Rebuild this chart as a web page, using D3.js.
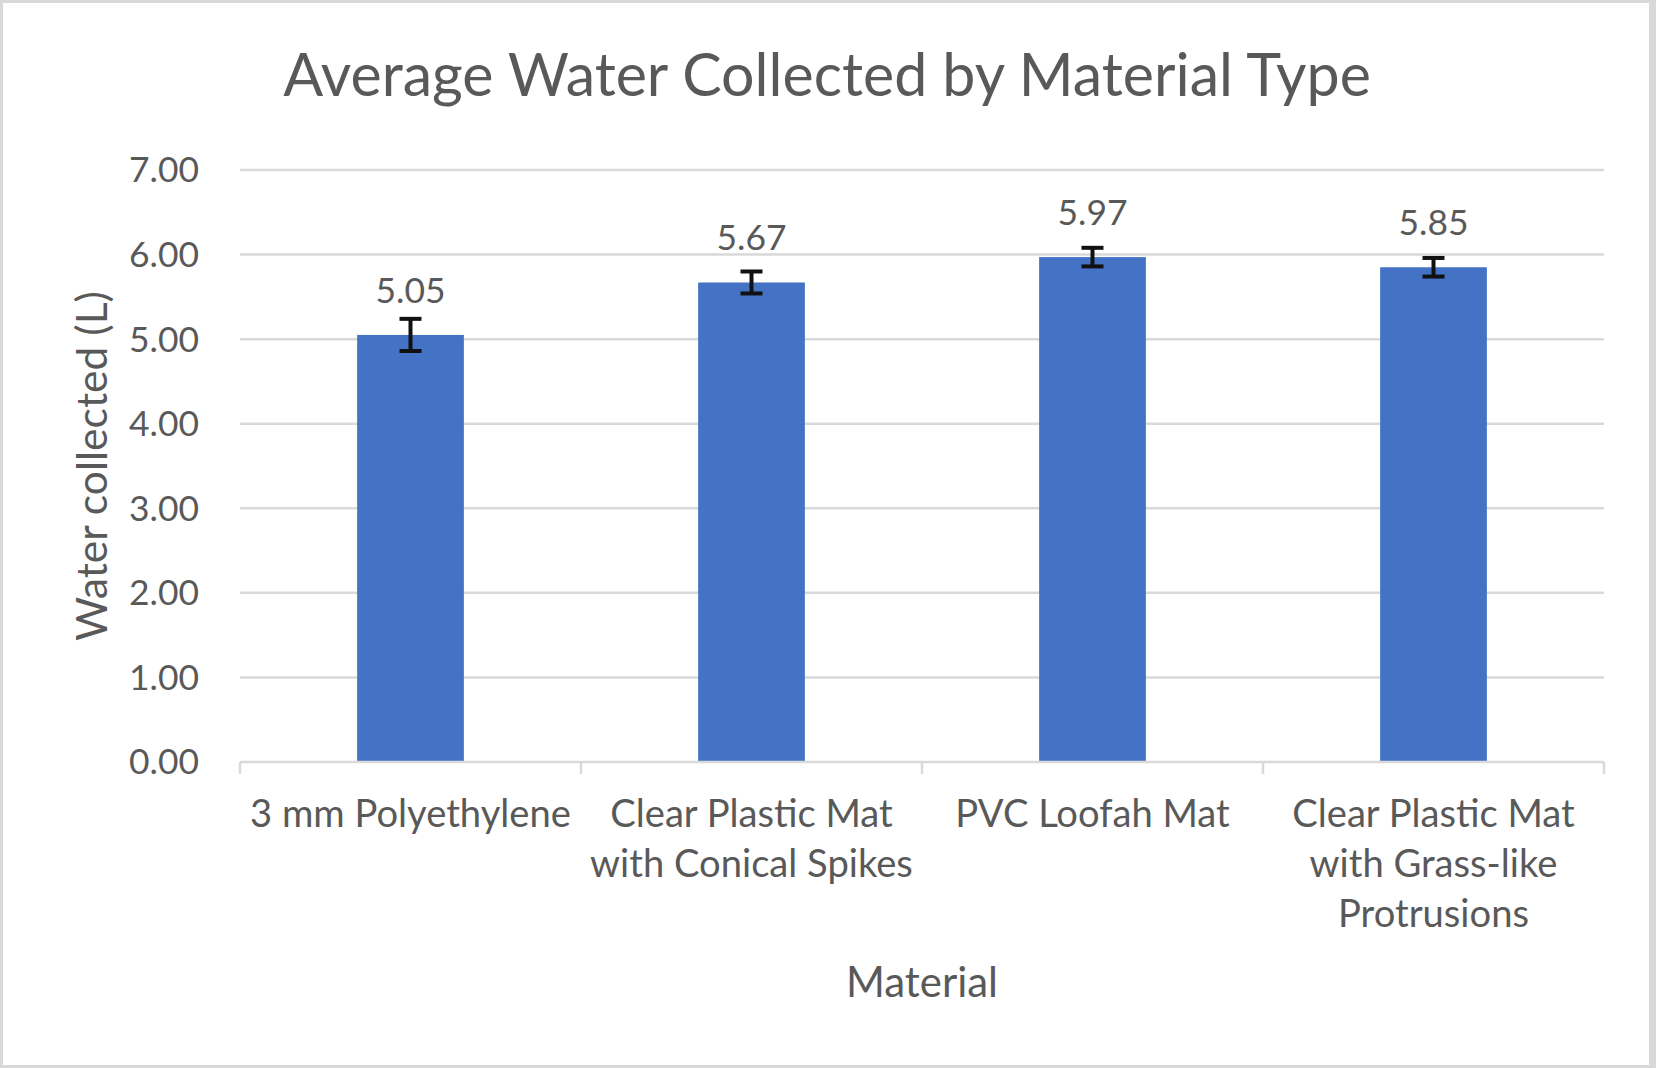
<!DOCTYPE html>
<html>
<head>
<meta charset="utf-8">
<script src="https://cdn.jsdelivr.net/npm/d3@7"></script>
<style>
  html, body { margin: 0; padding: 0; background: #fff; }
  svg { display: block; }
  text { font-family: Lato, "Open Sans", sans-serif; fill: #595959; }
</style>
</head>
<body>
<svg id="chart" width="1656" height="1068"></svg>
<script>
// ---- data ----
const categories = ["3 mm Polyethylene", "Clear Plastic Mat with Conical Spikes", "PVC Loofah Mat", "Clear Plastic Mat with Grass-like Protrusions"];
const categoryLines = [["3 mm Polyethylene"], ["Clear Plastic Mat", "with Conical Spikes"], ["PVC Loofah Mat"], ["Clear Plastic Mat", "with Grass-like", "Protrusions"]];
const values = [5.05, 5.67, 5.97, 5.85];
const errors = [0.19, 0.13, 0.11, 0.11];
const yTicks = [0, 1, 2, 3, 4, 5, 6, 7];
const chartTitle = "Average Water Collected by Material Type";
const xTitle = "Material";
const yTitle = "Water collected (L)";

(function () {
// ---- layout ----
const W = 1656, H = 1068;
const pL = 240, pR = 1604, pT = 170, pB = 762;
const svg = d3.select("#chart");

function fit(sel, target) {
  const w = sel.node().getComputedTextLength();
  const fs = parseFloat(sel.attr("font-size"));
  const nf = fs * target / w;
  sel.attr("font-size", nf);
  return nf;
}

// border
svg.append("rect").attr("x", 1.5).attr("y", 1.5).attr("width", W - 3).attr("height", H - 3)
  .attr("fill", "#fff").attr("stroke", "#d9d9d9").attr("stroke-width", 3);
svg.append("rect").attr("x", 1649).attr("y", 0).attr("width", 7).attr("height", H).attr("fill", "#d9d9d9");

const x = d3.scaleBand().domain(categories).range([pL, pR]).padding(0);
const y = d3.scaleLinear().domain([0, 7]).range([pB, pT]);

// gridlines
svg.append("g").selectAll("line").data(yTicks.filter(d => d > 0)).join("line")
  .attr("x1", pL).attr("x2", pR)
  .attr("y1", d => y(d)).attr("y2", d => y(d))
  .attr("stroke", "#d9d9d9").attr("stroke-width", 2.5);

// y tick labels (size measured from "7.00")
const probe = svg.append("text").attr("font-size", 40).text("7.00");
const tickFs = fit(probe, 70);
probe.remove();
svg.append("g").selectAll("text").data(yTicks).join("text")
  .attr("x", 199).attr("y", d => y(d)).attr("dy", "0.35em")
  .attr("text-anchor", "end").attr("font-size", tickFs)
  .text(d => d3.format(".2f")(d));

// bars
const barW = x.bandwidth() * 0.313;
svg.append("g").selectAll("rect").data(values).join("rect")
  .attr("x", (d, i) => x(categories[i]) + x.bandwidth() / 2 - barW / 2)
  .attr("y", d => y(d)).attr("width", barW).attr("height", d => y(0) - y(d))
  .attr("fill", "#4472c4");

// x axis line & ticks
svg.append("line").attr("x1", pL).attr("x2", pR).attr("y1", pB).attr("y2", pB)
  .attr("stroke", "#d9d9d9").attr("stroke-width", 2.5);
const boundaries = categories.map(c => x(c)).concat([pR]);
svg.append("g").selectAll("line").data(boundaries).join("line")
  .attr("x1", d => d).attr("x2", d => d).attr("y1", pB).attr("y2", pB + 12)
  .attr("stroke", "#d9d9d9").attr("stroke-width", 2.5);

// error bars
const eb = svg.append("g").attr("stroke", "#111").attr("stroke-width", 4);
values.forEach((v, i) => {
  const cx = x(categories[i]) + x.bandwidth() / 2;
  const y1 = y(v + errors[i]), y2 = y(v - errors[i]);
  eb.append("line").attr("x1", cx).attr("x2", cx).attr("y1", y1).attr("y2", y2);
  eb.append("line").attr("x1", cx - 11).attr("x2", cx + 11).attr("y1", y1).attr("y2", y1);
  eb.append("line").attr("x1", cx - 11).attr("x2", cx + 11).attr("y1", y2).attr("y2", y2);
});

// data labels
svg.append("g").selectAll("text").data(values).join("text")
  .attr("x", (d, i) => x(categories[i]) + x.bandwidth() / 2)
  .attr("y", d => y(d) - 32)
  .attr("text-anchor", "middle").attr("font-size", tickFs)
  .text(d => d3.format(".2f")(d));

// category labels
const probe2 = svg.append("text").attr("font-size", 40).text(categoryLines[0][0]);
const catFs = fit(probe2, 321);
probe2.remove();
categoryLines.forEach((lines, i) => {
  const cx = x(categories[i]) + x.bandwidth() / 2;
  const t = svg.append("text").attr("text-anchor", "middle").attr("font-size", catFs);
  lines.forEach((ln, j) => {
    t.append("tspan").attr("x", cx).attr("y", 827 + j * 50).text(ln);
  });
});

// axis titles
const xt = svg.append("text").attr("x", (pL + pR) / 2).attr("y", 997)
  .attr("text-anchor", "middle").attr("font-size", 40).text(xTitle);
fit(xt, 152);

const yt = svg.append("text").attr("transform", `translate(107, ${(pT + pB) / 2}) rotate(-90)`)
  .attr("text-anchor", "middle").attr("font-size", 40).text(yTitle);
fit(yt, 350);

// chart title
const tt = svg.append("text").attr("x", 827).attr("y", 96)
  .attr("text-anchor", "middle").attr("font-size", 60).text(chartTitle);
fit(tt, 1088);
})();
</script>
</body>
</html>
